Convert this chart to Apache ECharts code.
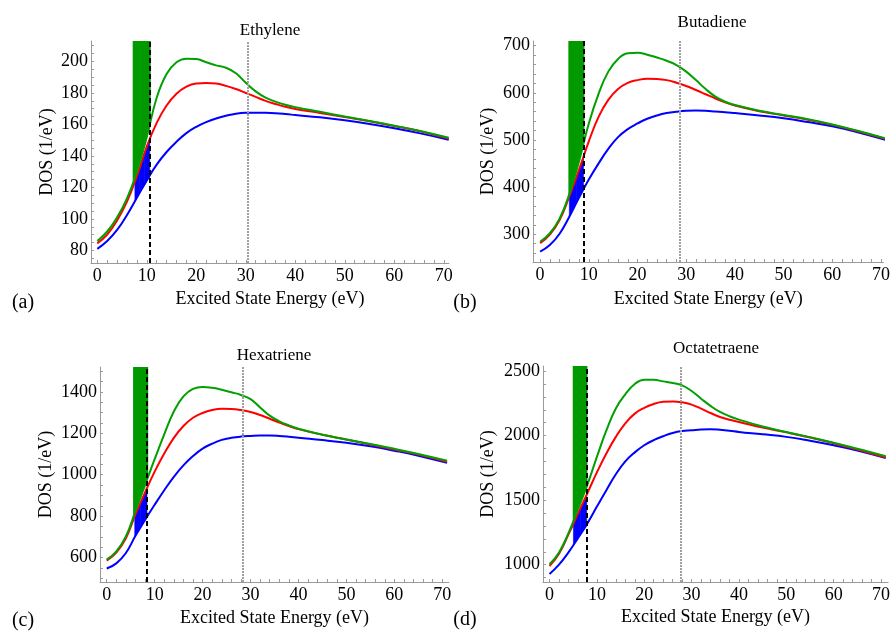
<!DOCTYPE html>
<html>
<head>
<meta charset="utf-8">
<script src="https://cdn.jsdelivr.net/npm/echarts@6/dist/echarts.min.js"></script>
<style>
  html, body { margin: 0; padding: 0; background: #fff; }
  #main { width: 893px; height: 632px; }
</style>
</head>
<body>
<div id="main"></div>
<script>
// excited state energy (eV) sample points shared by every curve
const energy = [0, 2, 4, 6, 8, 10, 12, 14, 16, 18, 20, 22, 24, 26, 28, 30, 32, 34, 36, 38, 40, 45, 50, 55, 60, 65, 71];

const ethyleneGreen = [86, 92, 101, 113, 130, 152, 177, 192, 199.5, 201.8, 201.5, 199.5, 197.5, 196, 192.5, 186.5, 181, 177, 174.5, 172.5, 171, 168, 165, 162.2, 159.2, 156, 151.5];
const ethyleneRed = [84.5, 90, 99, 111, 127, 146, 161, 172, 179.5, 184, 186, 186.3, 186, 184.5, 182.5, 180, 177.5, 175, 173, 171.2, 169.8, 167.3, 164.7, 162, 159, 155.8, 151];
const ethyleneBlue = [81, 86, 93, 102.5, 113.5, 124.5, 134.5, 142.5, 149, 154.5, 158.5, 161.5, 163.8, 165.5, 166.8, 167.4, 167.5, 167.4, 167.1, 166.6, 166, 164.5, 162.6, 160.3, 157.6, 154.5, 150.3];

const butadieneGreen = [284, 302, 333, 385, 455, 535, 598, 645, 672, 684, 685, 681, 675, 668, 659, 645, 627, 608, 592, 581, 574, 562, 553, 544, 533, 520, 503];
const butadieneRed = [281, 299, 330, 380, 437, 497, 549, 585, 608, 621, 627, 630, 629.5, 627, 621.5, 614.5, 606, 597, 588, 580, 573, 561, 552, 543, 532, 519, 502];
const butadieneBlue = [263, 277, 301, 337, 378, 416, 450, 481, 506, 523, 535, 545, 552, 557, 560, 562, 562.5, 562, 560.5, 559, 557, 552, 546, 538, 529, 517, 500];

const hexatrieneGreen = [590, 630, 702, 825, 950, 1075, 1195, 1305, 1378, 1414, 1424, 1420, 1410, 1398, 1385, 1365, 1325, 1285, 1258, 1238, 1222, 1193, 1170, 1148, 1125, 1100, 1067];
const hexatrieneRed = [585, 624, 693, 808, 915, 1015, 1102, 1178, 1235, 1275, 1298, 1312, 1318, 1317, 1312, 1303, 1288, 1270, 1252, 1235, 1220, 1193, 1170, 1146, 1122, 1097, 1062];
const hexatrieneBlue = [547, 572, 622, 705, 782, 855, 925, 990, 1045, 1090, 1126, 1150, 1168, 1178, 1184, 1187, 1189, 1189, 1187, 1183, 1178, 1167, 1154, 1137, 1116, 1092, 1057];

const octatetraeneGreen = [1003, 1095, 1245, 1430, 1620, 1835, 2040, 2210, 2320, 2400, 2433, 2432, 2420, 2408, 2389, 2345, 2286, 2230, 2183, 2150, 2124, 2070, 2028, 1988, 1945, 1898, 1840];
const octatetraeneRed = [990, 1085, 1235, 1395, 1555, 1715, 1861, 1990, 2095, 2170, 2215, 2245, 2262, 2265, 2258, 2240, 2209, 2175, 2144, 2122, 2106, 2062, 2025, 1985, 1940, 1892, 1830];
const octatetraeneBlue = [928, 1000, 1095, 1205, 1320, 1450, 1577, 1700, 1800, 1870, 1925, 1965, 1995, 2020, 2035, 2041, 2047, 2049, 2045, 2038, 2028, 2010, 1990, 1960, 1925, 1885, 1827];

// green band (above the green curve) and blue band (between blue and red curves)
const ethyleneBandX = [7.15, 8, 9, 10, 10.8];
const ethyleneBandGreen = [124, 130, 140, 152, 162];
const ethyleneBlueX = [7.6, 8.5, 9.5, 10.6];
const ethyleneBlueLow = [111.5, 116, 121, 127];
const ethyleneBlueHigh = [123.5, 131.5, 140.5, 151];

const butadieneBandX = [5.8, 7, 8, 9.1];
const butadieneBandGreen = [380, 418, 455, 500];
const butadieneBlueX = [6.0, 7.5, 8.9];
const butadieneBlueLow = [337, 368, 395];
const butadieneBlueHigh = [380, 423, 463];

const hexatrieneBandX = [5.5, 6.5, 7.5, 8.65];
const hexatrieneBandGreen = [797, 858, 920, 990];
const hexatrieneBlueX = [5.85, 7, 8.4];
const hexatrieneBlueLow = [699, 745, 797];
const hexatrieneBlueHigh = [800, 862, 935];

const octatetraeneBandX = [4.9, 6, 7, 8.0];
const octatetraeneBandGreen = [1335, 1430, 1525, 1620];
const octatetraeneBlueX = [5.05, 6.5, 7.84];
const octatetraeneBlueLow = [1150, 1235, 1312];
const octatetraeneBlueHigh = [1320, 1435, 1542];

// vertical markers: dashed black and dotted grey
const dashedAt = [10.6, 8.9, 8.4, 7.8];
const dottedAt = [30.4, 28.6, 28.4, 27.8];

const xTickLabels = [0, 10, 20, 30, 40, 50, 60, 70];
const ethyleneYLabels = [80, 100, 120, 140, 160, 180, 200];
const butadieneYLabels = [300, 400, 500, 600, 700];
const hexatrieneYLabels = [600, 800, 1000, 1200, 1400];
const octatetraeneYLabels = [1000, 1500, 2000, 2500];

const titles = ['Ethylene', 'Butadiene', 'Hexatriene', 'Octatetraene'];
const tags = ['(a)', '(b)', '(c)', '(d)'];

const FONT = '"Liberation Serif", "Times New Roman", serif';
const AXIS_GREY = '#9a9a9a';

function steps(a, b, s) {
  const r = [];
  for (let v = a; v <= b + 1e-9; v += s) r.push(+v.toFixed(3));
  return r;
}

const panels = [
  {
    green: ethyleneGreen, red: ethyleneRed, blue: ethyleneBlue,
    bandX: ethyleneBandX, bandG: ethyleneBandGreen,
    bx: ethyleneBlueX, bl: ethyleneBlueLow, bh: ethyleneBlueHigh,
    yLabels: ethyleneYLabels, yMinor: steps(75, 210, 5),
    grid: { left: 91, top: 41, width: 358, height: 222 },
    xMin: -1.27, xMax: 71.05, yMin: 72, yMax: 213,
    yGap: 35, xGap: 27,
    titlePos: [270, 31], tagPos: [23, 303]
  },
  {
    green: butadieneGreen, red: butadieneRed, blue: butadieneBlue,
    bandX: butadieneBandX, bandG: butadieneBandGreen,
    bx: butadieneBlueX, bl: butadieneBlueLow, bh: butadieneBlueHigh,
    yLabels: butadieneYLabels, yMinor: steps(260, 700, 20),
    grid: { left: 533, top: 41, width: 359, height: 221 },
    xMin: -1.46, xMax: 70.5, yMin: 241, yMax: 710,
    yGap: 36, xGap: 28,
    titlePos: [712, 23], tagPos: [465, 303]
  },
  {
    green: hexatrieneGreen, red: hexatrieneRed, blue: hexatrieneBlue,
    bandX: hexatrieneBandX, bandG: hexatrieneBandGreen,
    bx: hexatrieneBlueX, bl: hexatrieneBlueLow, bh: hexatrieneBlueHigh,
    yLabels: hexatrieneYLabels, yMinor: steps(500, 1500, 50),
    grid: { left: 100, top: 367, width: 349, height: 215 },
    xMin: -1.4, xMax: 71.4, yMin: 482, yMax: 1520,
    yGap: 45, xGap: 27,
    titlePos: [274, 356], tagPos: [23, 621]
  },
  {
    green: octatetraeneGreen, red: octatetraeneRed, blue: octatetraeneBlue,
    bandX: octatetraeneBandX, bandG: octatetraeneBandGreen,
    bx: octatetraeneBlueX, bl: octatetraeneBlueLow, bh: octatetraeneBlueHigh,
    yLabels: octatetraeneYLabels, yMinor: steps(900, 2500, 100),
    grid: { left: 543, top: 366, width: 348, height: 216 },
    xMin: -1.38, xMax: 71.5, yMin: 866, yMax: 2539,
    yGap: 46, xGap: 26,
    titlePos: [716, 349], tagPos: [465, 620]
  }
];

const pairs = (xs, ys) => xs.map((x, k) => [x, ys[k]]);
const plain = v => String(v);

const grids = [], xAxes = [], yAxes = [], series = [], graphics = [];

panels.forEach((p, i) => {
  grids.push(Object.assign({ containLabel: false }, p.grid));

  xAxes.push({
    type: 'value', gridIndex: i, min: p.xMin, max: p.xMax,
    name: 'Excited State Energy (eV)', nameLocation: 'middle', nameGap: p.xGap,
    nameTextStyle: { fontFamily: FONT, fontSize: 18, color: '#000' },
    axisLine: { show: true, onZero: false, lineStyle: { color: AXIS_GREY, width: 1 } },
    axisTick: { show: true, inside: true, length: 3, customValues: steps(0, 70, 2), lineStyle: { color: AXIS_GREY } },
    axisLabel: { customValues: xTickLabels, formatter: plain, fontFamily: FONT, fontSize: 18, color: '#000', margin: 4 },
    splitLine: { show: false }
  });

  yAxes.push({
    type: 'value', gridIndex: i, min: p.yMin, max: p.yMax,
    name: 'DOS (1/eV)', nameLocation: 'middle', nameGap: p.yGap, nameRotate: 90,
    nameTextStyle: { fontFamily: FONT, fontSize: 18, color: '#000' },
    axisLine: { show: true, onZero: false, lineStyle: { color: AXIS_GREY, width: 1 } },
    axisTick: { show: true, inside: true, length: 3, customValues: p.yMinor, lineStyle: { color: AXIS_GREY } },
    axisLabel: { customValues: p.yLabels, formatter: plain, fontFamily: FONT, fontSize: 18, color: '#000', margin: 3 },
    splitLine: { show: false }
  });

  // green band, filled from the green curve up to the top of the plot
  series.push({
    type: 'line', xAxisIndex: i, yAxisIndex: i, z: 1, silent: true,
    data: pairs(p.bandX, p.bandG), symbol: 'none', smooth: 0.3,
    lineStyle: { width: 0 },
    areaStyle: { origin: 'end', color: '#009a00', opacity: 1 }
  });

  // blue band between blue and red curves
  series.push({
    type: 'custom', xAxisIndex: i, yAxisIndex: i, z: 1, silent: true, clip: true,
    data: p.bx.map((x, k) => [x, p.bl[k], p.bh[k]]),
    renderItem: (params, api) => {
      const k = params.dataIndex;
      if (k >= p.bx.length - 1) return null;
      const pts = [
        api.coord([p.bx[k], p.bl[k]]),
        api.coord([p.bx[k + 1], p.bl[k + 1]]),
        api.coord([p.bx[k + 1], p.bh[k + 1]]),
        api.coord([p.bx[k], p.bh[k]])
      ];
      return { type: 'polygon', shape: { points: pts }, style: { fill: '#0000ff', stroke: '#0000ff', lineWidth: 0.6 } };
    }
  });

  const curve = (ys, color) => ({
    type: 'line', xAxisIndex: i, yAxisIndex: i, z: 3, silent: true,
    data: pairs(energy, ys), symbol: 'none', smooth: 0.45,
    lineStyle: { color: color, width: 2 }
  });
  series.push(curve(p.blue, '#0000ff'));
  series.push(curve(p.red, '#ff0000'));
  const g = curve(p.green, '#00a000');
  g.markLine = {
    silent: true, symbol: ['none', 'none'], label: { show: false }, animation: false,
    data: [
      { xAxis: dashedAt[i], lineStyle: { color: '#000', type: [5, 3], width: 2 } },
      { xAxis: dottedAt[i], lineStyle: { color: '#a0a0a0', type: [2, 1], width: 2 } }
    ]
  };
  series.push(g);

  graphics.push({
    type: 'text', x: p.titlePos[0], y: p.titlePos[1],
    style: { text: titles[i], fill: '#000', font: '17px ' + FONT, align: 'center', verticalAlign: 'middle' }
  });
  graphics.push({
    type: 'text', x: p.tagPos[0], y: p.tagPos[1],
    style: { text: tags[i], fill: '#000', font: '20px ' + FONT, align: 'center', verticalAlign: 'middle' }
  });
});

const chart = echarts.init(document.getElementById('main'));
chart.setOption({
  animation: false,
  backgroundColor: '#fff',
  grid: grids,
  xAxis: xAxes,
  yAxis: yAxes,
  series: series,
  graphic: graphics
});
</script>
</body>
</html>
